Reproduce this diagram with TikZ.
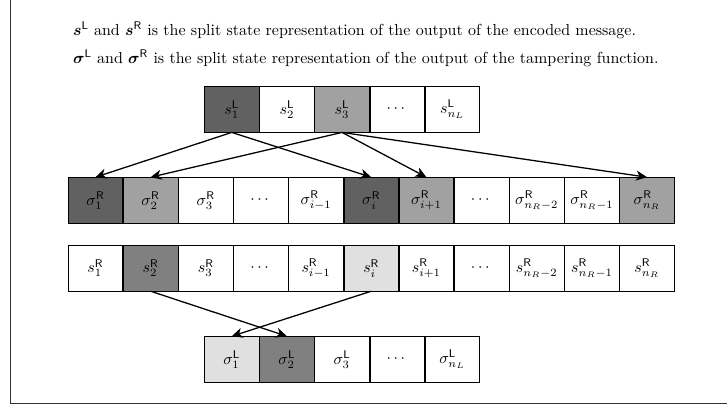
\documentclass[tikz,border=0pt]{standalone}
\usepackage{amsmath}
\usepackage{bm}
\usetikzlibrary{
    arrows.meta,
    positioning
}
\colorlet{tonedark}{black!62}
\colorlet{tonemid}{black!50}
\colorlet{tonelight}{black!37}
\colorlet{tonepale}{black!12}
\tikzset{
    cell/.style={draw, minimum width=1.2cm, minimum height=1cm, inner sep=0pt},
    link/.style={thick, -{Stealth[length=2.4mm, width=2.2mm, inset=0.7mm]}}
}

\begin{document}
\begin{tikzpicture}
    \useasboundingbox (0,0) rectangle (16,8.977);

    % Open frame round the picture
    \draw[line width=0.6pt, black!80] (0.22,8.977) |- (16,0.09);

    % Legend lines
    \node[anchor=base west, inner sep=0pt] (legs) at (1.6,8.2)
        {$\boldsymbol{s}^{\mathsf{L}}$ and $\boldsymbol{s}^{\mathsf{R}}$ is the split state representation of the output of the encoded message.};
    \node[anchor=base west, inner sep=0pt] (legsig) at (1.6,7.58)
        {$\boldsymbol{\sigma}^{\mathsf{L}}$ and $\boldsymbol{\sigma}^{\mathsf{R}}$ is the split state representation of the output of the tampering function.};

    % Left state of the encoded message
    \node[cell, fill=tonedark] (sL1) at (5.1,6.57) {$s^{\mathsf{L}}_1$};
    \node[cell, right=0pt of sL1] (sL2) {$s^{\mathsf{L}}_2$};
    \node[cell, fill=tonelight, right=0pt of sL2] (sL3) {$s^{\mathsf{L}}_3$};
    \node[cell, right=0pt of sL3] (sLdots) {$\cdots$};
    \node[cell, right=0pt of sLdots] (sLn) {$s^{\mathsf{L}}_{n_L}$};

    % Right state of the tampered output
    \node[cell, fill=tonedark] (sigR1) at (2.1,4.57) {$\sigma^{\mathsf{R}}_1$};
    \node[cell, fill=tonelight, right=0pt of sigR1] (sigR2) {$\sigma^{\mathsf{R}}_2$};
    \node[cell, right=0pt of sigR2] (sigR3) {$\sigma^{\mathsf{R}}_3$};
    \node[cell, right=0pt of sigR3] (sigRdots) {$\cdots$};
    \node[cell, right=0pt of sigRdots] (sigRim) {$\sigma^{\mathsf{R}}_{i-1}$};
    \node[cell, fill=tonedark, right=0pt of sigRim] (sigRi) {$\sigma^{\mathsf{R}}_{i}$};
    \node[cell, fill=tonelight, right=0pt of sigRi] (sigRip) {$\sigma^{\mathsf{R}}_{i+1}$};
    \node[cell, right=0pt of sigRip] (sigRdotsb) {$\cdots$};
    \node[cell, right=0pt of sigRdotsb] (sigRnb) {$\sigma^{\mathsf{R}}_{n_R-2}$};
    \node[cell, right=0pt of sigRnb] (sigRna) {$\sigma^{\mathsf{R}}_{n_R-1}$};
    \node[cell, fill=tonelight, right=0pt of sigRna] (sigRn) {$\sigma^{\mathsf{R}}_{n_R}$};

    % Right state of the encoded message
    \node[cell] (sR1) at (2.1,3.075) {$s^{\mathsf{R}}_1$};
    \node[cell, fill=tonemid, right=0pt of sR1] (sR2) {$s^{\mathsf{R}}_2$};
    \node[cell, right=0pt of sR2] (sR3) {$s^{\mathsf{R}}_3$};
    \node[cell, right=0pt of sR3] (sRdots) {$\cdots$};
    \node[cell, right=0pt of sRdots] (sRim) {$s^{\mathsf{R}}_{i-1}$};
    \node[cell, fill=tonepale, right=0pt of sRim] (sRi) {$s^{\mathsf{R}}_{i}$};
    \node[cell, right=0pt of sRi] (sRip) {$s^{\mathsf{R}}_{i+1}$};
    \node[cell, right=0pt of sRip] (sRdotsb) {$\cdots$};
    \node[cell, right=0pt of sRdotsb] (sRnb) {$s^{\mathsf{R}}_{n_R-2}$};
    \node[cell, right=0pt of sRnb] (sRna) {$s^{\mathsf{R}}_{n_R-1}$};
    \node[cell, right=0pt of sRna] (sRn) {$s^{\mathsf{R}}_{n_R}$};

    % Left state of the tampered output
    \node[cell, fill=tonepale] (sigL1) at (5.1,1.07) {$\sigma^{\mathsf{L}}_1$};
    \node[cell, fill=tonemid, right=0pt of sigL1] (sigL2) {$\sigma^{\mathsf{L}}_2$};
    \node[cell, right=0pt of sigL2] (sigL3) {$\sigma^{\mathsf{L}}_3$};
    \node[cell, right=0pt of sigL3] (sigLdots) {$\cdots$};
    \node[cell, right=0pt of sigLdots] (sigLn) {$\sigma^{\mathsf{L}}_{n_L}$};

    % Where the tampering sends the cells
    \draw[link] (sL1.south) -- (sigR1.north);
    \draw[link] (sL1.south) -- (sigRi.north);
    \draw[link] (sL3.south) -- (sigR2.north);
    \draw[link] (sL3.south) -- (sigRip.north);
    \draw[link] (sL3.south) -- (sigRn.north);
    \draw[link] (sR2.south) -- (sigL2.north);
    \draw[link] (sRi.south) -- (sigL1.north);
\end{tikzpicture}
\end{document}
